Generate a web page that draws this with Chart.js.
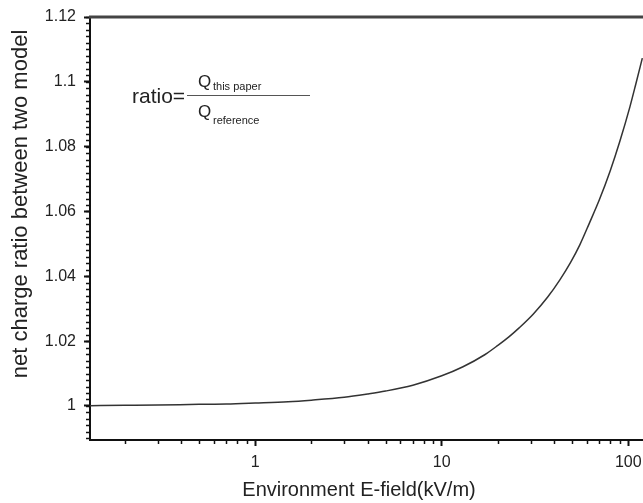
<!DOCTYPE html>
<html>
<head>
<meta charset="utf-8">
<script src="https://cdn.jsdelivr.net/npm/chart.js@4.4.0/dist/chart.umd.min.js"></script>
<style>
  html, body { margin: 0; padding: 0; background: #fff; }
  #wrap { width: 643px; height: 503px; }
</style>
</head>
<body>
<div id="wrap"><canvas id="myChart"></canvas></div>
<script>
// values
const fieldValues = [0.13, 0.2, 0.3, 0.5, 0.7, 1, 1.5, 2, 3, 4, 5, 7, 10, 13, 17, 20, 23, 26, 31, 37, 43, 49, 55, 62, 70, 80, 90, 102, 110, 119];
const ratioValues = [1.0001, 1.0002, 1.0003, 1.0005, 1.0006, 1.0009, 1.0013, 1.0018, 1.0027, 1.0037, 1.0046, 1.0064,
                     1.0093, 1.0121, 1.0158, 1.0187, 1.0214, 1.0241, 1.0284, 1.0336, 1.0389, 1.0442, 1.0497, 1.0565,
                     1.0636, 1.0725, 1.0815, 1.0922, 1.0995, 1.1073];

const xTickLabels = [1, 10, 100];
const yTickLabels = [1, 1.02, 1.04, 1.06, 1.08, 1.1, 1.12];

const xTitle = 'Environment E-field(kV/m)';
const yTitle = 'net charge ratio between two model';

const xMin = 0.13, xMax = 120;
const yMin = 0.9895, yMax = 1.12;

// minor tick positions (2..9 per decade, every 0.002 on y)
const xMinorTicks = [];
[0.1, 1, 10].forEach(d => { for (let k = 2; k <= 9; k++) xMinorTicks.push(d * k); });
const yMinorTicks = [];
for (let i = 495; i <= 560; i++) yMinorTicks.push(i / 500);

const FONT = "'Liberation Sans', Arial, sans-serif";

const extras = {
  id: 'extras',
  afterDraw(chart) {
    const { ctx, chartArea } = chart;
    const x = chart.scales.x, y = chart.scales.y;
    ctx.save();

    // minor ticks
    ctx.strokeStyle = '#111';
    ctx.lineWidth = 1.5;
    xMinorTicks.forEach(v => {
      if (v < xMin || v > xMax) return;
      const px = Math.round(x.getPixelForValue(v)) + 0.5;
      ctx.beginPath();
      ctx.moveTo(px, chartArea.bottom);
      ctx.lineTo(px, chartArea.bottom + 4);
      ctx.stroke();
    });
    yMinorTicks.forEach(v => {
      if (v < yMin || v > yMax) return;
      const py = Math.round(y.getPixelForValue(v)) + 0.5;
      ctx.beginPath();
      ctx.moveTo(chartArea.left, py);
      ctx.lineTo(chartArea.left - 4, py);
      ctx.stroke();
    });

    // top frame line
    ctx.strokeStyle = '#444';
    ctx.lineWidth = 3;
    ctx.beginPath();
    ctx.moveTo(chartArea.left - 1, chartArea.top);
    ctx.lineTo(chart.width, chartArea.top);
    ctx.stroke();

    // axis titles
    ctx.fillStyle = '#222';
    ctx.textBaseline = 'middle';
    ctx.textAlign = 'center';
    ctx.font = '20px ' + FONT;
    ctx.fillText(xTitle, chartArea.left + 269, chartArea.bottom + 50);
    ctx.save();
    ctx.translate(21, chartArea.top + 187);
    ctx.rotate(-Math.PI / 2);
    ctx.font = '22px ' + FONT;
    ctx.fillText(yTitle, 0, 0);
    ctx.restore();

    // formula note
    const ax = chartArea.left + 42, ay = chartArea.top + 78;
    ctx.textAlign = 'left';
    ctx.font = '21px ' + FONT;
    ctx.fillText('ratio=', ax, ay + 2);
    ctx.strokeStyle = '#555';
    ctx.lineWidth = 1;
    ctx.beginPath();
    ctx.moveTo(ax + 55, ay + 0.5);
    ctx.lineTo(ax + 178, ay + 0.5);
    ctx.stroke();
    ctx.font = '17px ' + FONT;
    ctx.fillText('Q', ax + 66, ay - 13);
    ctx.fillText('Q', ax + 66, ay + 17);
    ctx.font = '11px ' + FONT;
    ctx.fillText('this paper', ax + 81, ay - 8);
    ctx.fillText('reference', ax + 81, ay + 26);
    ctx.restore();
  }
};

const ctx = document.getElementById('myChart').getContext('2d');

new Chart(ctx, {
  type: 'line',
  data: {
    datasets: [{
      data: fieldValues.map((v, i) => ({ x: v, y: ratioValues[i] })),
      borderColor: '#333',
      borderWidth: 1.5,
      pointRadius: 0,
      cubicInterpolationMode: 'monotone',
      fill: false
    }]
  },
  options: {
    responsive: true,
    maintainAspectRatio: false,
    animation: false,
    layout: { padding: { top: 17, right: 0, left: 0, bottom: 0 } },
    plugins: {
      legend: { display: false },
      tooltip: { enabled: false }
    },
    scales: {
      x: {
        type: 'logarithmic',
        min: xMin,
        max: xMax,
        afterBuildTicks: s => { s.ticks = xTickLabels.map(v => ({ value: v })); },
        afterFit: s => { s.height = 63; s.paddingLeft = 0; s.paddingRight = 0; },
        ticks: {
          color: '#222',
          font: { family: FONT, size: 16 },
          padding: 7,
          maxRotation: 0,
          callback: v => String(v)
        },
        grid: { drawOnChartArea: false, tickLength: 6, tickColor: '#111', tickWidth: 2 },
        border: { color: '#111', width: 2 }
      },
      y: {
        min: yMin,
        max: yMax,
        afterBuildTicks: s => { s.ticks = yTickLabels.map(v => ({ value: v })); },
        afterFit: s => { s.width = 90; s.paddingTop = 0; s.paddingBottom = 0; },
        ticks: {
          color: '#222',
          font: { family: FONT, size: 16 },
          padding: 8,
          callback: v => String(v)
        },
        grid: { drawOnChartArea: false, tickLength: 6, tickColor: '#111', tickWidth: 2 },
        border: { color: '#111', width: 2 }
      }
    }
  },
  plugins: [extras]
});
</script>
</body>
</html>
